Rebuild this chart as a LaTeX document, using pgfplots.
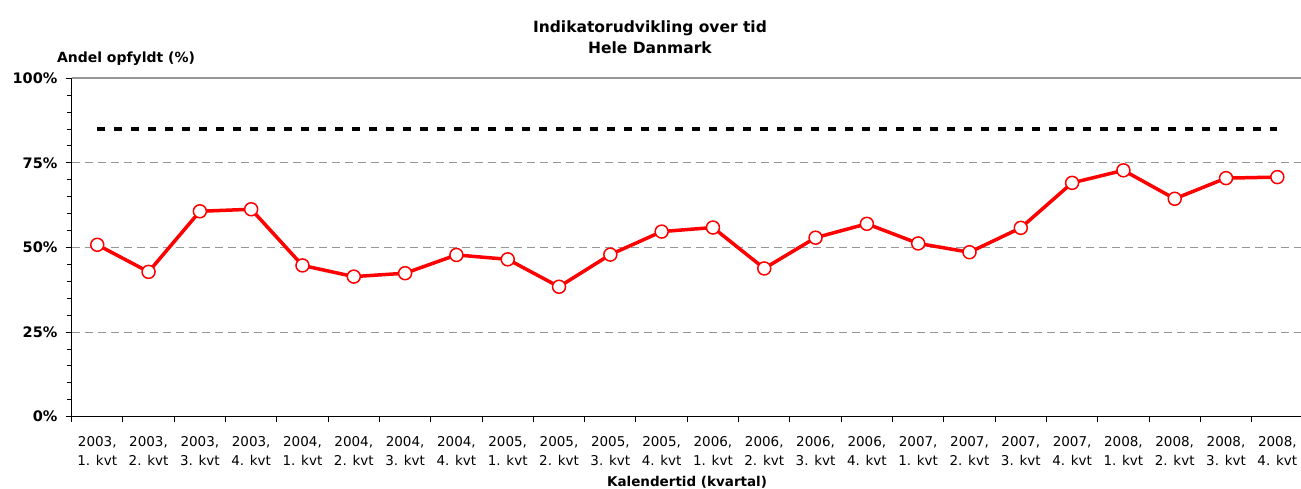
\documentclass[border=0pt]{standalone}
\usepackage{pgfplots}
\pgfplotsset{compat=1.18}
\usepackage{fontspec}
\setmainfont{DejaVu Sans}
\definecolor{gridgray}{RGB}{150,150,150}
\definecolor{myred}{RGB}{255,0,0}
\begin{document}
\begin{tikzpicture}[x=1pt,y=1pt]
\useasboundingbox (0,0) rectangle (1301,489);
\begin{axis}[
  at={(71.6pt,72.3pt)}, anchor=south west,
  scale only axis, width=1231.4pt, height=338.4pt,
  xmin=-0.5, xmax=23.5, ymin=0, ymax=100,
  axis lines*=left,
  axis line style={black, line width=1.6pt},
  xtick={0,...,23},
  xticklabels={{2003,\\1. kvt},{2003,\\2. kvt},{2003,\\3. kvt},{2003,\\4. kvt},
    {2004,\\1. kvt},{2004,\\2. kvt},{2004,\\3. kvt},{2004,\\4. kvt},
    {2005,\\1. kvt},{2005,\\2. kvt},{2005,\\3. kvt},{2005,\\4. kvt},
    {2006,\\1. kvt},{2006,\\2. kvt},{2006,\\3. kvt},{2006,\\4. kvt},
    {2007,\\1. kvt},{2007,\\2. kvt},{2007,\\3. kvt},{2007,\\4. kvt},
    {2008,\\1. kvt},{2008,\\2. kvt},{2008,\\3. kvt},{2008,\\4. kvt}},
  minor xtick={-0.5,0.5,...,23.5},
  major x tick style={draw=none},
  minor x tick style={black, line width=1pt},
  xticklabel style={font={\fontsize{13.5}{18.3}\selectfont}, align=center, anchor=north, inner sep=0pt, yshift=-14pt},
  ytick={0,25,50,75,100},
  yticklabels={0\%,25\%,50\%,75\%,100\%},
  minor y tick num=4,
  y tick style={black, line width=1pt},
  yticklabel style={font={\fontsize{14.5}{17}\selectfont\bfseries}, anchor=east, inner sep=0pt, xshift=-8pt},
  tick align=outside,
  major tick length=6pt, minor tick length=5pt,
  title={Indikatorudvikling over tid\\Hele Danmark},
  title style={font={\fontsize{15.5}{21}\selectfont\bfseries}, align=center, at={(axis description cs:0.4697,1.104)}, anchor=center},
  ylabel={Andel opfyldt (\%)},
  ylabel style={font={\fontsize{14}{17}\selectfont\bfseries}, rotate=-90, at={(axis description cs:0.0442,1.058)}, anchor=center},
  xlabel={Kalendertid (kvartal)},
  xlabel style={font={\fontsize{13.5}{17}\selectfont\bfseries}, at={(axis description cs:0.4998,-0.195)}, anchor=center},
  clip=false,
]
\draw[gridgray, line width=1pt, dash pattern=on 8pt off 5pt] (axis cs:-0.5,25) -- (axis cs:23.5,25);
\draw[gridgray, line width=1pt, dash pattern=on 8pt off 5pt] (axis cs:-0.5,50) -- (axis cs:23.5,50);
\draw[gridgray, line width=1pt, dash pattern=on 8pt off 5pt] (axis cs:-0.5,75) -- (axis cs:23.5,75);
\draw[gridgray, line width=1.6pt] (axis cs:-0.5,100) -- (axis cs:23.5,100);
\addplot[black, line width=4pt, dash pattern=on 8pt off 9pt, no marks] coordinates {(0,85) (23,85)};
\addplot[myred, line width=3.5pt, mark=*, mark size=6.5pt,
  mark options={fill=white, draw=myred, line width=1.5pt, solid}] coordinates {
(0,50.8) (1,42.8) (2,60.7) (3,61.3) (4,44.7) (5,41.4) (6,42.4) (7,47.8)
(8,46.5) (9,38.4) (10,47.9) (11,54.7) (12,55.9) (13,43.8) (14,52.9) (15,57.0)
(16,51.2) (17,48.6) (18,55.8) (19,69.1) (20,72.8) (21,64.4) (22,70.5) (23,70.8)};
\end{axis}
\end{tikzpicture}
\end{document}
